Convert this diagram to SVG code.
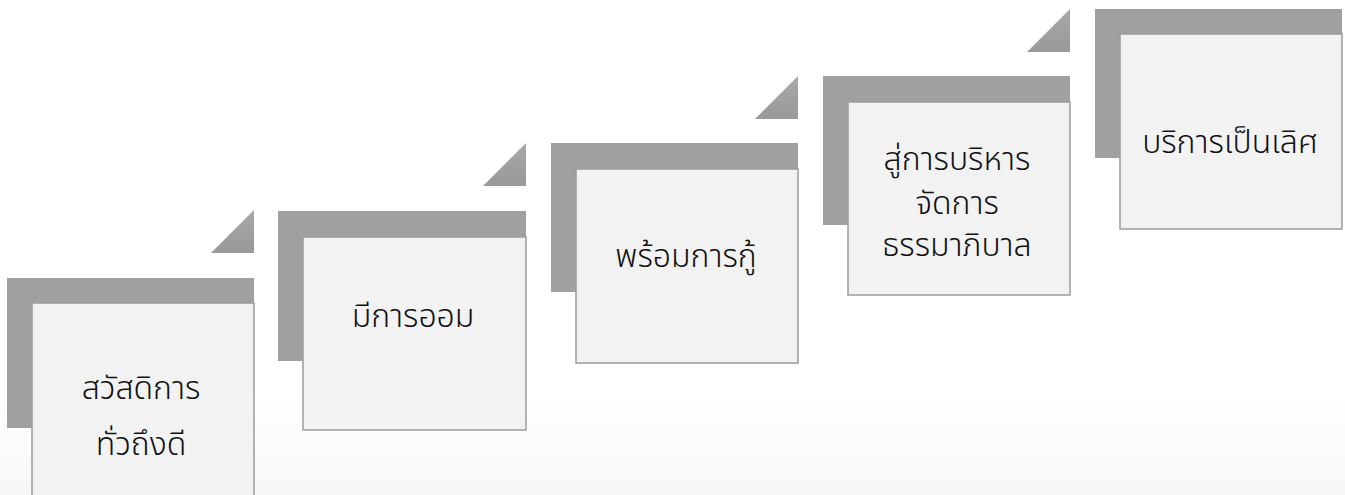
<svg xmlns="http://www.w3.org/2000/svg" width="1345" height="495" viewBox="0 0 1345 495">
<defs>
<style>
.back{fill:#A0A0A0;}
.box{fill:#F2F2F2;stroke:#9C9C9C;stroke-width:1.5;}
.tri{fill:url(#tg);}
.lbl{font-family:"Noto Sans Thai","Noto Sans","DejaVu Sans",sans-serif;font-size:32px;font-weight:300;fill:#111;text-anchor:middle;}
</style>
<linearGradient id="tg" x1="0" y1="0" x2="0" y2="1">
<stop offset="0" stop-color="#A8A8A8"/>
<stop offset="1" stop-color="#999999"/>
</linearGradient>
<linearGradient id="bg" x1="0" y1="0" x2="0" y2="1">
<stop offset="0" stop-color="#FFFFFF"/>
<stop offset="0.8" stop-color="#FFFFFF"/>
<stop offset="1" stop-color="#F7F7F7"/>
</linearGradient>
</defs>
<rect width="1345" height="495" fill="url(#bg)"/>
<g id="step1">
<rect class="back" x="7" y="278" width="247" height="150"/>
<polygon class="tri" points="211,253 254,210 254,253"/>
<rect class="box" x="32" y="303" width="222" height="200"/>
<text class="lbl" x="141" y="399">สวัสดิการ</text>
<text class="lbl" x="141" y="455">ทั่วถึงดี</text>
</g>
<g id="step2">
<rect class="back" x="278" y="211" width="248" height="150"/>
<polygon class="tri" points="483,186 526,143 526,186"/>
<rect class="box" x="303" y="237" width="223" height="193"/>
<text class="lbl" x="413" y="327">มีการออม</text>
</g>
<g id="step3">
<rect class="back" x="551" y="143" width="247" height="149"/>
<polygon class="tri" points="755,119 798,76 798,119"/>
<rect class="box" x="576" y="169" width="222" height="194"/>
<text class="lbl" x="686" y="267">พร้อมการกู้</text>
</g>
<g id="step4">
<rect class="back" x="823" y="76" width="247" height="149"/>
<polygon class="tri" points="1027,52 1070,9 1070,52"/>
<rect class="box" x="848" y="102" width="222" height="193"/>
<text class="lbl" x="957" y="170">สู่การบริหาร</text>
<text class="lbl" x="957" y="214">จัดการ</text>
<text class="lbl" x="957" y="256">ธรรมาภิบาล</text>
</g>
<g id="step5">
<rect class="back" x="1095" y="9" width="247" height="149"/>
<rect class="box" x="1120" y="34" width="222" height="195"/>
<text class="lbl" x="1230" y="153">บริการเป็นเลิศ</text>
</g>
<g id="connectors"></g>
</svg>
